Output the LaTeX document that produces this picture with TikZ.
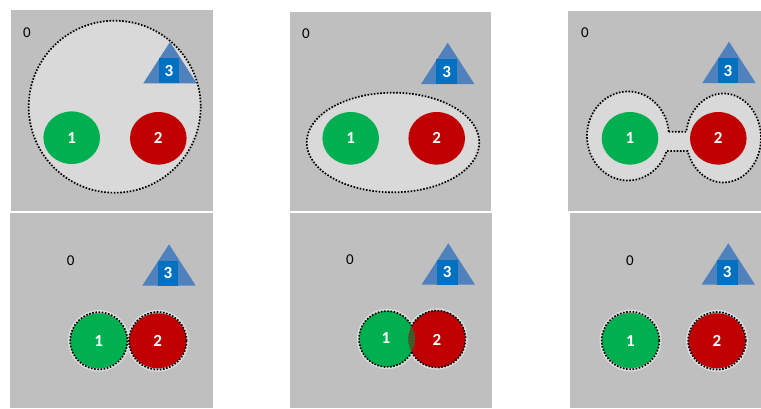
\documentclass[tikz,border=0pt]{standalone}
\usepackage{fontspec}
\setmainfont{Carlito}
\usetikzlibrary{shapes.geometric,patterns}
\definecolor{panelgray}{HTML}{BFBFBF}
\definecolor{lightfill}{HTML}{D9D9D9}
\definecolor{ballgreen}{HTML}{00B050}
\definecolor{ballred}{HTML}{C00000}
\definecolor{triblue}{HTML}{4F81BD}
\definecolor{sqblue}{HTML}{0070C0}
\tikzset{
  panel/.style={fill=panelgray},
  dots/.style={draw=black, line width=1.7pt, dash pattern=on 1.6pt off 1.6pt},
  halo/.style={draw=black!13, line width=2.2pt},
  numfont/.style={text=white, font=\bfseries\fontsize{17}{17}\selectfont},
  ball/.style={ellipse, inner sep=0pt, minimum width=56.6pt, minimum height=52.6pt, numfont},
  bigball/.style={ball, minimum width=57.5pt, minimum height=55pt},
  zero/.style={font=\fontsize{15}{15}\selectfont, text=black},
  sqbox/.style={rectangle, fill=sqblue, inner sep=0pt, minimum width=20.5pt, minimum height=25pt, numfont},
  tri/.pic={
    \fill[triblue] (0,0) -- (26.7,41.3) -- (-26.7,41.3) -- cycle;
    \node[sqbox] (-sq) at (-1,28.8) {3};
  }
}
\begin{document}
\begin{tikzpicture}[x=1pt,y=-1pt]
\useasboundingbox (0,0) rectangle (761,408);
% panels
\fill[panel] (11,10) rectangle (213,210.5);
\fill[panel] (289.5,11.5) rectangle (491,210.5);
\fill[panel] (568,10.5) rectangle (761,210.5);
\fill[panel] (10,212.5) rectangle (213,408);
\fill[panel] (290,212.5) rectangle (492,408);
\fill[panel] (570,212.5) rectangle (761,408);

% ---------- panel 1
\fill[lightfill] (114.7,106.7) circle[radius=86];
\pic (t1) at (170,42) {tri};
\draw[dots] (114.7,106.7) circle[radius=86];
\node[zero] (z1) at (27,33) {0};
\node[ball, fill=ballgreen] (a1) at (71.7,137.7) {1};
\node[ball, fill=ballred] (b1) at (158.3,138.3) {2};

% ---------- panel 2
\pic (t2) at (447.7,42.7) {tri};
\path[fill=lightfill, dots] (393,142.5) ellipse[x radius=86.3, y radius=49.8];
\node[zero] (z2) at (306,34) {0};
\node[ball, fill=ballgreen] (a2) at (350.7,138.3) {1};
\node[ball, fill=ballred] (b2) at (436.7,138.3) {2};

% ---------- panel 3
\pic (t3) at (729,41.7) {tri};
\path[fill=lightfill, dots] (668.8,131.7)
  arc[start angle=-5.54, end angle=-340.3, x radius=41, y radius=44.5]
  -- (687.6,151)
  arc[start angle=163, end angle=-171.86, x radius=37.5, y radius=44.5]
  -- cycle;
\node[zero] (z3) at (585,33) {0};
\node[ball, fill=ballgreen] (a3) at (630,138.3) {1};
\node[ball, fill=ballred] (b3) at (718.3,138.3) {2};

% ---------- panel 4
\pic (t4) at (169,244.3) {tri};
\node[zero] (z4) at (70.7,261) {0};
\draw[halo] (98.8,340.8) circle[radius=29.6];
\draw[halo] (157.8,340.8) circle[radius=29.8];
\node[bigball, fill=ballgreen] (a4) at (98.8,340.8) {};
\node[bigball, fill=ballred] (b4) at (157.8,340.8) {};
\draw[dots] (98.8,340.8) circle[radius=28.6];
\draw[dots] (157.8,340.8) circle[radius=28.8];
\node[numfont] (n4a) at (a4) {1};
\node[numfont] (n4b) at (b4) {2};

% ---------- panel 5
\pic (t5) at (448.3,243.3) {tri};
\node[zero] (z5) at (350,260) {0};
\draw[halo] (387,339) circle[radius=29];
\draw[halo] (437,339) circle[radius=29.5];
\fill[ballgreen] (387,339) circle[radius=28];
\fill[ballred] (437,339) circle[radius=28.5];
\begin{scope}
  \clip (387,339) circle[radius=28];
  \fill[ballgreen!70!ballred!85!black] (437,339) circle[radius=28.5];
  \fill[pattern=crosshatch dots, pattern color=ballred] (437,339) circle[radius=28.5];
\end{scope}
\draw[dots] (387,339) ++(28:28) arc[start angle=28, end angle=332, radius=28];
\draw[dots] (437,339) ++(152.5:28.5) arc[start angle=152.5, end angle=-152.5, radius=28.5];
\node[numfont] (a5) at (386,338) {1};
\node[numfont] (b5) at (437,340) {2};

% ---------- panel 6
\pic (t6) at (728.3,243.3) {tri};
\node[zero] (z6) at (630,261) {0};
\draw[halo] (630.5,340.5) circle[radius=29.8];
\draw[halo] (717,340.8) circle[radius=29.8];
\node[bigball, fill=ballgreen] (a6) at (630.5,340.5) {};
\node[bigball, fill=ballred] (b6) at (717,340.8) {};
\draw[dots] (630.5,340.5) circle[radius=28.8];
\draw[dots] (717,340.8) circle[radius=28.8];
\node[numfont] (n6a) at (a6) {1};
\node[numfont] (n6b) at (b6) {2};
\end{tikzpicture}
\end{document}
